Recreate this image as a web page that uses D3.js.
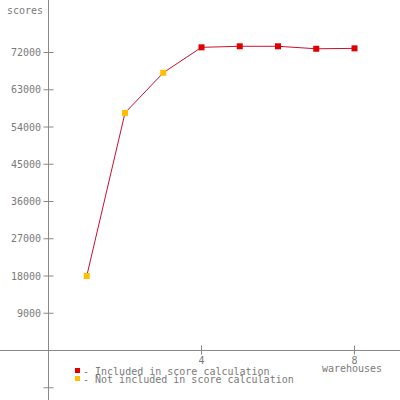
<!DOCTYPE html>
<html><head><meta charset="utf-8">
<script src="https://cdn.jsdelivr.net/npm/d3@7"></script>
<style>body{margin:0;background:#fff}svg{display:block}text{font-family:"DejaVu Sans Mono",monospace;font-size:10px;fill:#7a7a7a}</style>
</head><body>
<svg id="c" width="400" height="400"></svg>
<script>
const warehouses = [1, 2, 3, 4, 5, 6, 7, 8];
const scores = [18000, 57400, 67100, 73250, 73500, 73500, 72900, 73000];
const included = [false, false, false, true, true, true, true, true];
const yTicks = [-9000, 0, 9000, 18000, 27000, 36000, 45000, 54000, 63000, 72000];
const xTicks = [4, 8];
const legendLabels = ["- Included in score calculation", "- Not included in score calculation"];

const svg = d3.select("#c");
const x = d3.scaleLinear().domain([0, 8]).range([48.5, 354.5]);
const y = d3.scaleLinear().domain([0, 72000]).range([350.5, 52.5]);
const axisColor = "#888";

// axes lines
svg.append("line").attr("x1", x(0)).attr("x2", x(0)).attr("y1", 0).attr("y2", 400).attr("stroke", axisColor);
svg.append("line").attr("x1", 0).attr("x2", 400).attr("y1", y(0)).attr("y2", y(0)).attr("stroke", axisColor);

// y ticks
const yt = svg.append("g");
yTicks.filter(d => d !== 0).forEach(d => {
  yt.append("line").attr("x1", x(0) - 5).attr("x2", x(0) + 5).attr("y1", y(d)).attr("y2", y(d)).attr("stroke", axisColor);
  if (d > 0) yt.append("text").attr("x", 41).attr("y", y(d)).attr("dy", "0.35em").attr("text-anchor", "end").text(d);
});
// x ticks
xTicks.forEach(d => {
  svg.append("line").attr("x1", x(d)).attr("x2", x(d)).attr("y1", y(0) - 5).attr("y2", y(0) + 4).attr("stroke", axisColor);
  svg.append("text").attr("x", x(d)).attr("y", 360).attr("dy", "0.35em").attr("text-anchor", "middle").text(d);
});
svg.append("text").attr("x", 43).attr("y", 10).attr("dy", "0.35em").attr("text-anchor", "end").text("scores");
svg.append("text").attr("x", 352).attr("y", 368).attr("dy", "0.35em").attr("text-anchor", "middle").text("warehouses");

// line
const data = warehouses.map((w, i) => ({w, s: scores[i], inc: included[i]}));
svg.append("path").datum(data)
  .attr("d", d3.line().x(d => x(d.w)).y(d => y(d.s)))
  .attr("fill", "none").attr("stroke", "#c8102e").attr("stroke-width", 1);
svg.selectAll("rect.pt").data(data).join("rect").attr("class", "pt")
  .attr("x", d => x(d.w) - 3).attr("y", d => y(d.s) - 3).attr("width", 6).attr("height", 6)
  .attr("fill", d => d.inc ? "#e00000" : "#ffbf00");

// legend
const legColors = ["#e00000", "#ffbf00"];
legendLabels.forEach((t, i) => {
  const ly = 371 + i * 8;
  svg.append("rect").attr("x", 75).attr("y", ly - 3).attr("width", 5).attr("height", 5).attr("fill", legColors[i]);
  svg.append("text").attr("x", 83).attr("y", ly).attr("dy", "0.35em").text(t);
});
</script>
</body></html>
